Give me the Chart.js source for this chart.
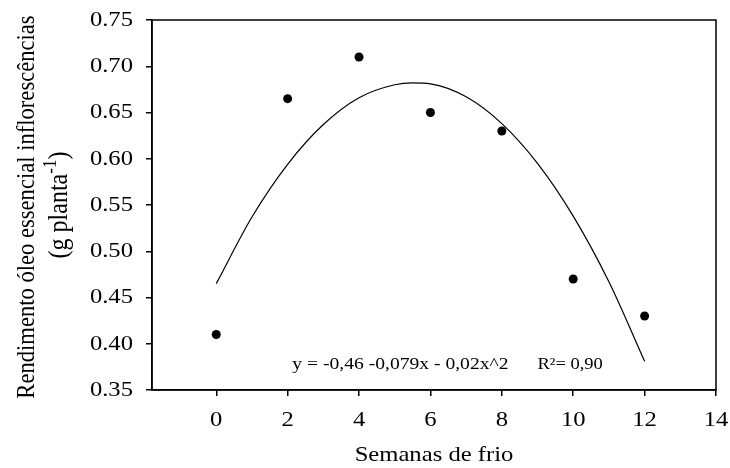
<!DOCTYPE html>
<html>
<head>
<meta charset="utf-8">
<script src="https://cdn.jsdelivr.net/npm/chart.js@4.4.0/dist/chart.umd.min.js"></script>
<style>
  html, body { margin: 0; padding: 0; background: #fff; }
</style>
</head>
<body>
<canvas id="myChart" width="730" height="468"></canvas>
<script>
// measured points
const weeks = [0, 2, 4, 6, 8, 10, 12];
const yieldValues = [0.41, 0.665, 0.71, 0.65, 0.63, 0.47, 0.43];

// fitted curve
const curveWeeks = [0, 1, 2, 3, 4, 5, 5.5, 6, 7, 8, 9, 10, 11, 12];
const curveValues = [0.465, 0.537, 0.594, 0.637, 0.666, 0.680, 0.682, 0.681, 0.667, 0.638, 0.595, 0.538, 0.467, 0.381];

// tick labels
const xTicks = [0, 2, 4, 6, 8, 10, 12, 14];
const yTicks = [0.35, 0.40, 0.45, 0.50, 0.55, 0.60, 0.65, 0.70, 0.75];

const equation = "y = -0,46 -0,079x - 0,02x^2";
const r2Text = "R²= 0,90";

const FONT = "'Liberation Serif', 'Times New Roman', serif";
const SX = 1.12; // the original's text is drawn a bit wide

// draw all Chart.js text horizontally stretched
const stretchText = {
    id: "stretchText",
    beforeDraw(chart) {
        const fill = CanvasRenderingContext2D.prototype.fillText;
        chart.ctx.fillText = function (text, x, y) {
            this.save();
            this.translate(x, y);
            this.scale(SX, 1);
            fill.call(this, text, 0, 0);
            this.restore();
        };
    },
    afterDraw(chart) {
        delete chart.ctx.fillText;
    },
};

function wideText(ctx, text, x, y) {
    ctx.save();
    ctx.translate(x, y);
    ctx.scale(SX, 1);
    ctx.fillText(text, 0, 0);
    ctx.restore();
}

// box around the plot, y title and regression text
const frame = {
    id: "frame",
    afterDraw(chart) {
        const { ctx, chartArea: a, scales } = chart;
        ctx.save();
        ctx.strokeStyle = "#000";
        ctx.lineWidth = 1.5;
        ctx.strokeRect(a.left, a.top, a.right - a.left, a.bottom - a.top);

        ctx.fillStyle = "#000";
        ctx.textBaseline = "alphabetic";
        ctx.textAlign = "left";
        const ty = scales.y.getPixelForValue(0.3727);
        ctx.font = "17.5px " + FONT;
        wideText(ctx, equation, scales.x.getPixelForValue(2.13), ty);
        ctx.font = "16.5px " + FONT;
        wideText(ctx, r2Text, scales.x.getPixelForValue(9.0), ty);

        const midY = (a.top + a.bottom) / 2;

        // first title line
        ctx.save();
        ctx.translate(34, midY + 2);
        ctx.rotate(-Math.PI / 2);
        ctx.scale(1, SX);
        ctx.textAlign = "center";
        ctx.font = "22.6px " + FONT;
        ctx.fillText("Rendimento óleo essencial inflorescências", 0, 0);
        ctx.restore();

        // second title line with superscript
        const main = "24px " + FONT;
        const sup = "17px " + FONT;
        ctx.save();
        ctx.translate(67, midY);
        ctx.rotate(-Math.PI / 2);
        ctx.scale(1, SX);
        ctx.textAlign = "left";
        ctx.font = main;
        const w1 = ctx.measureText("(g planta").width;
        const w3 = ctx.measureText(")").width;
        ctx.font = sup;
        const w2 = ctx.measureText("-1").width;
        let pos = -(w1 + w2 + w3) / 2;
        ctx.font = main;
        ctx.fillText("(g planta", pos, 0);
        pos += w1;
        ctx.font = sup;
        ctx.fillText("-1", pos, -10);
        pos += w2;
        ctx.font = main;
        ctx.fillText(")", pos, 0);
        ctx.restore();

        ctx.restore();
    },
};

const data = {
    datasets: [
        {
            label: "observado",
            data: weeks.map((w, i) => ({ x: w, y: yieldValues[i] })),
            pointRadius: 4.5,
            pointBackgroundColor: "#000",
            pointBorderWidth: 0,
            showLine: false,
            order: 1,
        },
        {
            label: "ajuste",
            data: curveWeeks.map((w, i) => ({ x: w, y: curveValues[i] })),
            showLine: true,
            borderColor: "#000",
            borderWidth: 1.2,
            pointRadius: 0,
            cubicInterpolationMode: "monotone",
            fill: false,
            order: 2,
        },
    ],
};

const tickGrid = {
    display: true,
    drawOnChartArea: false,
    drawTicks: true,
    tickLength: 6,
    color: "#000",
    lineWidth: 1.5,
};

const config = {
    type: "scatter",
    data: data,
    options: {
        responsive: false,
        animation: false,
        layout: { padding: { top: 20, right: 14, left: 0, bottom: 0 } },
        plugins: {
            legend: { display: false },
            tooltip: { enabled: false },
        },
        scales: {
            x: {
                type: "linear",
                min: -1.8,
                max: 14,
                afterBuildTicks: (scale) => {
                    scale.ticks = xTicks.map((v) => ({ value: v }));
                },
                afterFit: (scale) => {
                    scale.height = 78;
                    scale.paddingLeft = 0;
                    scale.paddingRight = 0;
                },
                ticks: {
                    color: "#000",
                    padding: 11,
                    font: { family: FONT, size: 22 },
                    callback: (v) => String(v),
                },
                grid: tickGrid,
                border: { display: true, color: "#000", width: 1.5 },
                title: {
                    display: true,
                    text: "Semanas de frio",
                    color: "#000",
                    font: { family: FONT, size: 22 },
                    padding: { top: 0, bottom: 0 },
                },
            },
            y: {
                type: "linear",
                min: 0.35,
                max: 0.75,
                afterBuildTicks: (scale) => {
                    scale.ticks = yTicks.map((v) => ({ value: v }));
                },
                afterFit: (scale) => {
                    scale.width = 152;
                    scale.paddingTop = 0;
                    scale.paddingBottom = 0;
                },
                ticks: {
                    color: "#000",
                    padding: 13,
                    font: { family: FONT, size: 22 },
                    callback: (v) => Number(v).toFixed(2),
                },
                grid: tickGrid,
                border: { display: true, color: "#000", width: 1.5 },
            },
        },
    },
    plugins: [stretchText, frame],
};

const myChart = new Chart(document.getElementById("myChart"), config);
</script>
</body>
</html>
